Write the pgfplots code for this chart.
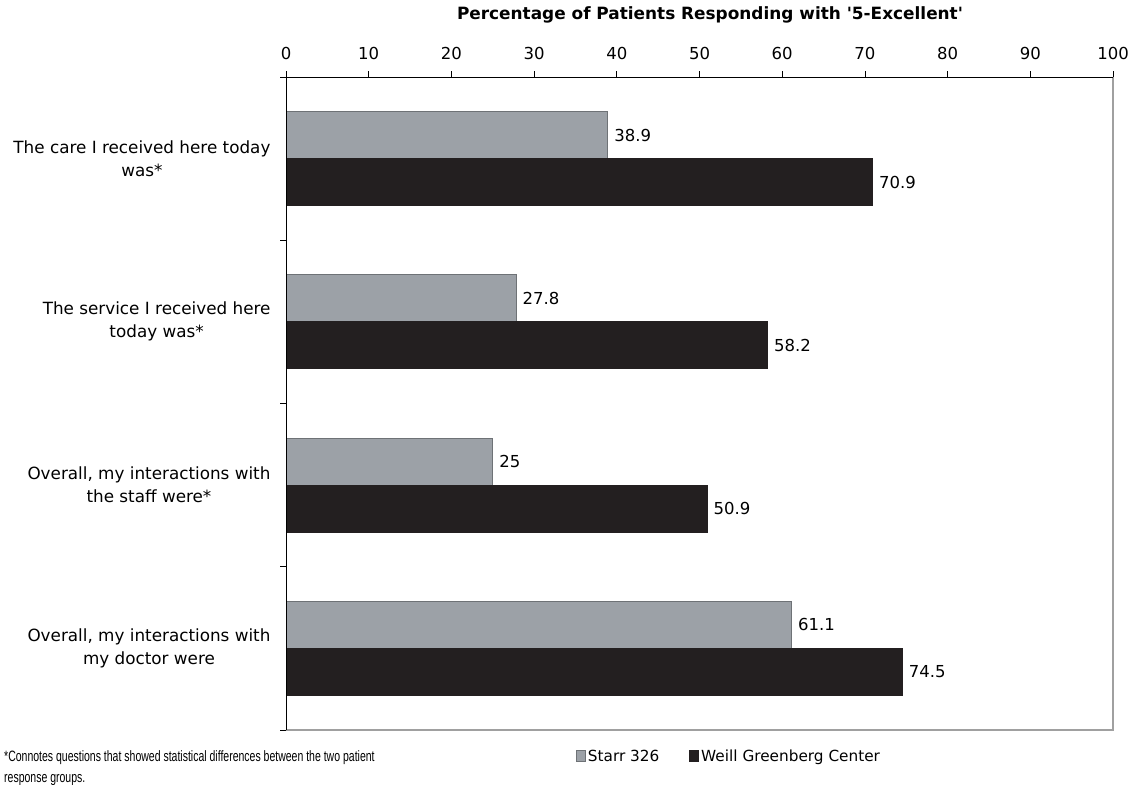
\documentclass[border=0pt]{standalone}
\usepackage{pgfplots}
\pgfplotsset{compat=1.18}
\usepackage{fontspec}
\setmainfont{DejaVu Sans}
\newfontfamily\condfont[FakeStretch=0.70]{Liberation Sans}
\definecolor{bargray}{HTML}{9CA1A7}
\definecolor{baredge}{HTML}{6E7276}
\definecolor{barblack}{HTML}{231F20}
\definecolor{framegray}{HTML}{A0A0A0}
\begin{document}
\begin{tikzpicture}[x=1pt,y=1pt]
\useasboundingbox (0,0) rectangle (1131,-784);
\begin{axis}[
  at={(286pt,-77pt)}, anchor=north west,
  scale only axis, width=827pt, height=653pt,
  xbar=0pt, bar width=47pt,
  xmin=0, xmax=100, ymin=-0.5, ymax=3.5, y dir=reverse,
  xtick={0,10,...,100}, xtick pos=right, xticklabel pos=right,
  ytick={-0.5,0.5,1.5,2.5,3.5}, ytick pos=left,
  yticklabels={{The care I received here today\\was*},{The service I received here\\today was*},{Overall, my interactions with\\the staff were*},{Overall, my interactions with\\my doctor were},{}},
  tick align=outside, major tick length=6pt,
  tick style={black, line width=0.8pt},
  axis line style={draw=none},
  /pgf/number format/assume math mode=true,
  x tick label style={yshift=8pt, font=\fontsize{16.5}{23}\selectfont},
  y tick label style={align=center, yshift=-81.5pt, xshift=-6pt, font=\fontsize{16.8}{23}\selectfont},
  point meta=x,
  nodes near coords,
  every node near coord/.append style={font=\fontsize{16.5}{20}\selectfont, black, anchor=west, xshift=3pt},
  legend columns=2,
  legend image code/.code={\draw[#1] (0pt,-5pt) rectangle (9pt,6pt);},
  legend style={draw=none, fill=none, font=\fontsize{15.3}{18}\selectfont, at={(0.347,-0.041)}, anchor=west,
    /tikz/every even column/.append style={column sep=28pt}},
  clip=false,
]
\addplot[fill=bargray, draw=baredge, line width=0.8pt, bar shift=23.5pt] coordinates {(38.9,0) (27.8,1) (25,2) (61.1,3)};
\addplot[fill=barblack, draw=barblack, line width=0.8pt, bar shift=-23.5pt] coordinates {(70.9,0) (58.2,1) (50.9,2) (74.5,3)};
\legend{Starr 326, Weill Greenberg Center}
\draw[framegray, line width=1.2pt] (axis cs:100,-0.5) -- (axis cs:100,3.5) -- (axis cs:0,3.5);
\draw[black, line width=0.8pt] (axis cs:0,3.5) -- (axis cs:0,-0.5) -- (axis cs:100,-0.5);
\end{axis}
\node[font=\bfseries\fontsize{16.9}{20}\selectfont] at (710,-15) {Percentage of Patients Responding with \textquotesingle5-Excellent\textquotesingle};
\node[anchor=north west, inner sep=0pt, font=\condfont\fontsize{15}{21}\selectfont, align=left] at (4,-750) {*Connotes questions that showed statistical differences between the two patient\\response groups.};
\end{tikzpicture}
\end{document}
